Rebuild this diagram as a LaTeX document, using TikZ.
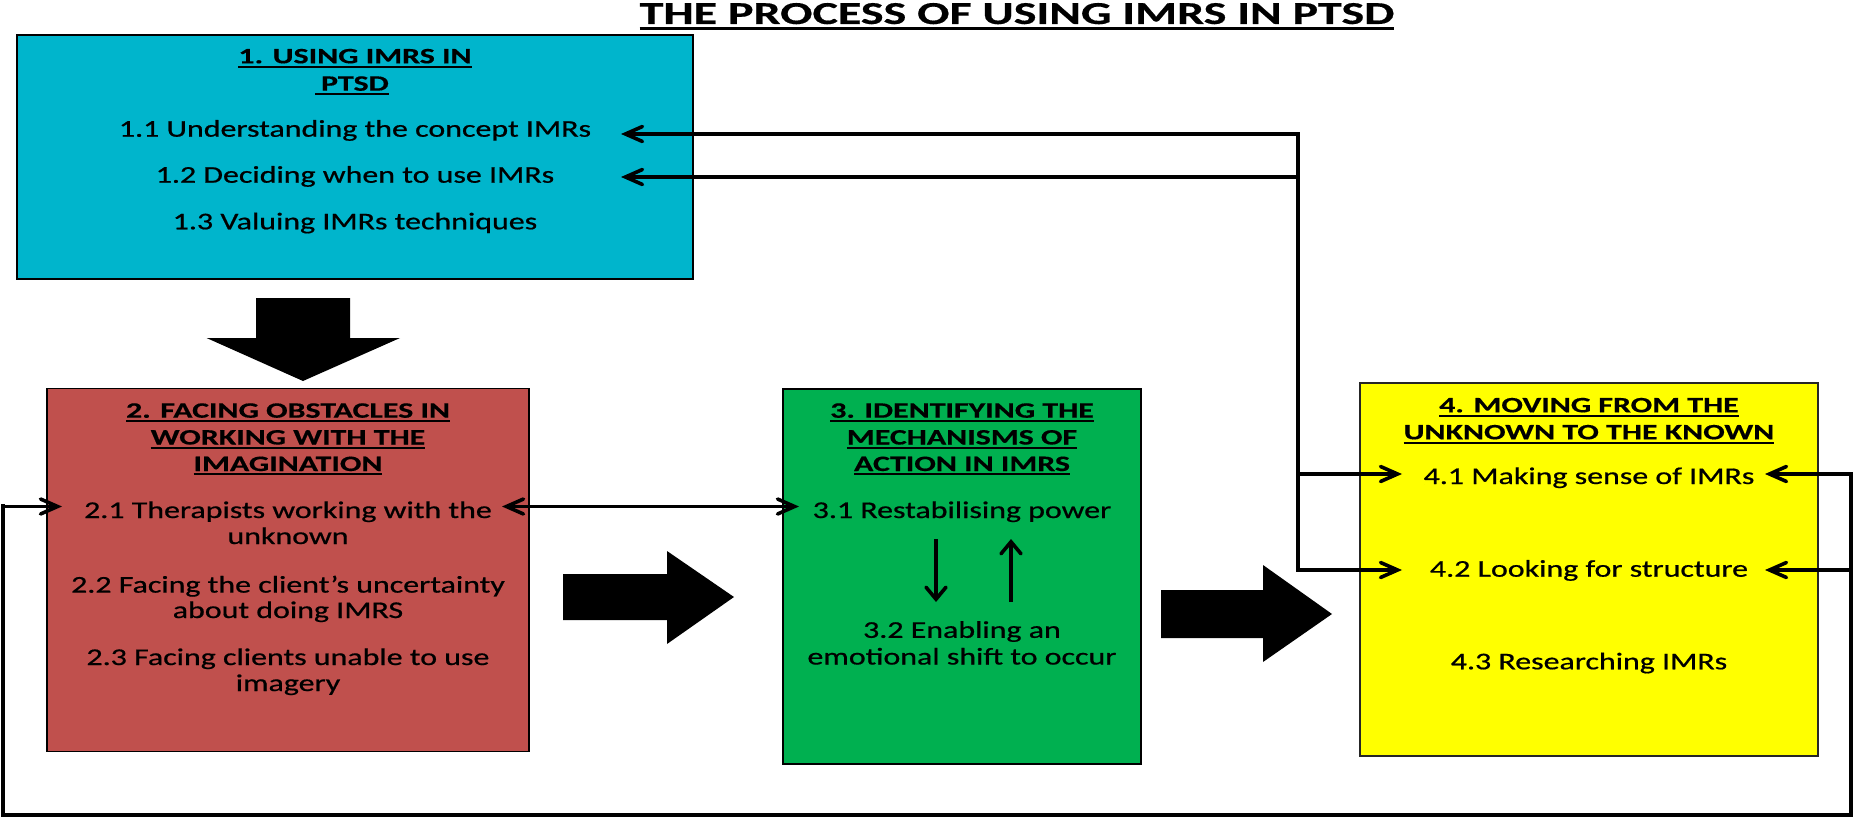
\documentclass[tikz,border=0pt]{standalone}
\usepackage{graphicx}
\usepackage{fontspec}
\setmainfont{Carlito}
\newfontfamily\itemfont{Carlito}[FakeBold=0.6]
\newfontfamily\headfont{Carlito Bold}[FakeBold=0.4]
\usetikzlibrary{arrows.meta}
\definecolor{cA}{RGB}{0,181,204}
\definecolor{cB}{RGB}{192,80,77}
\definecolor{cC}{RGB}{0,176,80}
\definecolor{cD}{RGB}{255,255,0}
\newcommand{\ulx}[1]{\setbox0=\hbox{#1}\dp0=0pt\vtop{\box0\kern1.1pt\hrule height 1pt}}
\newcommand{\ulT}[1]{\setbox0=\hbox{#1}\dp0=0pt\vtop{\box0\kern1.6pt\hrule height 1.3pt}}
\newcommand{\hdt}[1]{\scalebox{1.45}[1]{\ulx{#1}}}
\newcommand{\itt}[1]{\scalebox{1.33}[1]{#1}}
\tikzset{
  box/.style={draw=black, line width=0.9pt, inner sep=0pt},
  hd/.style={anchor=base, inner sep=0pt, font=\fontsize{11}{13}\selectfont\headfont},
  it/.style={anchor=base, inner sep=0pt, font=\fontsize{12}{14}\selectfont\itemfont},
  hconn/.style={line width=1.8pt},
  vconn/.style={line width=2.2pt, line cap=rect},
  tip/.style={-{Straight Barb[length=8.5pt,width=7.5pt,line cap=round]}},
  tips/.style={{Straight Barb[length=8.5pt,width=7.5pt,line cap=round]}-{Straight Barb[length=8.5pt,width=7.5pt,line cap=round]}},
  vtip/.style={-{Straight Barb[length=6pt,width=10pt,line width=1.8pt,line cap=round]}},
  big/.style={fill=black}
}
\begin{document}
\begin{tikzpicture}[x=0.5pt,y=-0.5pt]
\useasboundingbox (0,0) rectangle (1854,819);
% title
\node[anchor=base, inner sep=0pt, font=\fontsize{16}{18}\selectfont\headfont] (title) at (1017,24) {\scalebox{1.5}[1]{\ulT{THE PROCESS OF USING IMRS IN PTSD}}};
% boxes
\node[box, line width=1.3pt, fill=cA, minimum width=338pt, minimum height=122pt] (b1) at (355,157) {};
\node[box, fill=cB, minimum width=241pt, minimum height=181.5pt] (b2) at (288,570) {};
\node[box, fill=cC, minimum width=179pt, minimum height=187.7pt] (b3) at (962,576.3) {};
\node[box, draw=black!85, line width=0.8pt, fill=cD, minimum width=229pt, minimum height=186.5pt] (b4) at (1589,569.5) {};
% box 1 text
\node[hd] (h1a) at (355,63.3) {\hdt{1. USING IMRS IN}};
\node[hd] (h1b) at (352,90.7) {\hdt{\kern2pt PTSD}};
\node[it] (t11) at (355,136.7) {\itt{1.1 Understanding the concept IMRs}};
\node[it] (t12) at (355,182.7) {\itt{1.2 Deciding when to use IMRs}};
\node[it] (t13) at (355,229.3) {\itt{1.3 Valuing IMRs techniques}};
% box 2 text
\node[hd] (h2a) at (288,417.7) {\hdt{2. FACING OBSTACLES IN}};
\node[hd] (h2b) at (288,444.5) {\hdt{WORKING WITH THE}};
\node[hd] (h2c) at (288,471) {\hdt{IMAGINATION}};
\node[it] (t21a) at (288,518) {\itt{2.1 Therapists working with the}};
\node[it] (t21b) at (288,544) {\itt{unknown}};
\node[it] (t22a) at (288,592.6) {\itt{2.2 Facing the client’s uncertainty}};
\node[it] (t22b) at (288,618) {\itt{about doing IMRS}};
\node[it] (t23a) at (288,665) {\itt{2.3 Facing clients unable to use}};
\node[it] (t23b) at (288,691) {\itt{imagery}};
% box 3 text
\node[hd] (h3a) at (962,417.7) {\hdt{3. IDENTIFYING THE}};
\node[hd] (h3b) at (962,444.5) {\hdt{MECHANISMS OF}};
\node[hd] (h3c) at (962,471) {\hdt{ACTION IN IMRS}};
\node[it] (t31) at (962,518) {\itt{3.1 Restabilising power}};
\node[it] (t32a) at (962,637.8) {\itt{3.2 Enabling an}};
\node[it] (t32b) at (962,664.5) {\itt{emotional shift to occur}};
% box 4 text
\node[hd] (h4a) at (1589,412.3) {\hdt{4. MOVING FROM THE}};
\node[hd] (h4b) at (1589,439.3) {\hdt{UNKNOWN TO THE KNOWN}};
\node[it] (t41) at (1589,484) {\itt{4.1 Making sense of IMRs}};
\node[it] (t42) at (1589,576.7) {\itt{4.2 Looking for structure}};
\node[it] (t43) at (1589,669.3) {\itt{4.3 Researching IMRs}};
% big block arrows
\fill[big] (256,298) -- (350,298) -- (350,338) -- (400,338) -- (303,381) -- (206.6,338) -- (256,338) -- cycle;
\fill[big] (563,574) -- (667,574) -- (667,551) -- (734,597) -- (667,644) -- (667,620) -- (563,620) -- cycle;
\fill[big] (1161,590) -- (1263,590) -- (1263,565) -- (1332,614) -- (1263,662) -- (1263,638) -- (1161,638) -- cycle;
% connector coordinates
\coordinate (jt) at (1298,134);
\coordinate (j12) at (1298,177);
\coordinate (j41) at (1298,474);
\coordinate (jb) at (1298,570);
\coordinate (e11) at (621,134);
\coordinate (e12) at (621,177);
\coordinate (e41) at (1402,474);
\coordinate (e42) at (1402,570);
\coordinate (r41) at (1851,474);
\coordinate (r42) at (1851,570);
\coordinate (rb) at (1851,815);
\coordinate (lb) at (3,815);
\coordinate (lt) at (3,506.5);
\coordinate (e21) at (62,506.5);
\coordinate (f41) at (1765,474);
\coordinate (f42) at (1765,570);
\coordinate (d1) at (502,506.5);
\coordinate (d2) at (799,506.5);
\coordinate (dn1) at (936,539);
\coordinate (dn2) at (936,602);
\coordinate (up1) at (1011,602);
\coordinate (up2) at (1011,539);
% connectors
\draw[vconn] (jt) -- (jb);
\draw[hconn,tip] (jt) -- (e11);
\draw[hconn,tip] (j12) -- (e12);
\draw[hconn,tip] (j41) -- (e41);
\draw[hconn,tip] (jb) -- (e42);
\draw[vconn] (r41) -- (rb);
\draw[hconn] (rb) -- (lb);
\draw[vconn] (lb) -- (lt);
\draw[hconn,tip] (lt) -- (e21);
\draw[hconn,tip] (r41) -- (f41);
\draw[hconn,tip] (r42) -- (f42);
\draw[hconn,tips] (d1) -- (d2);
\draw[vconn,line cap=butt,vtip] (dn1) -- (dn2);
\draw[vconn,line cap=butt,vtip] (up1) -- (up2);
\end{tikzpicture}
\end{document}
